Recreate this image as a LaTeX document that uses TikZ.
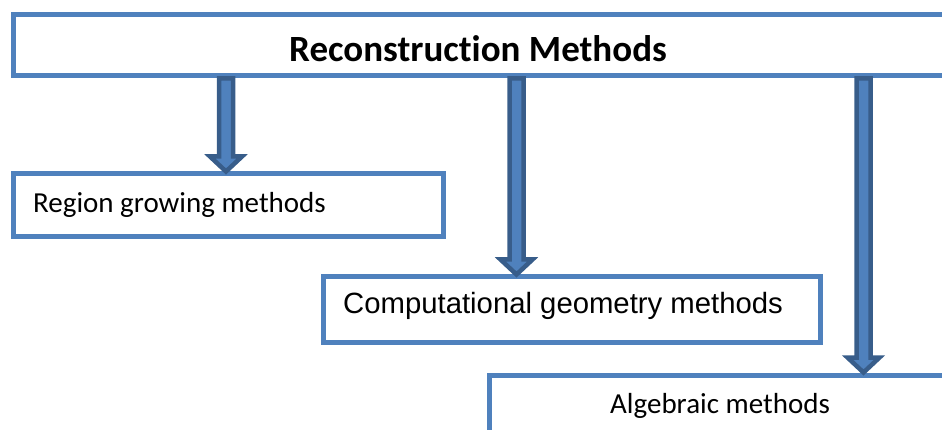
\documentclass[tikz,border=0pt]{standalone}
\usepackage{fontspec}
\setmainfont{Carlito}[Ligatures=NoCommon]
\newfontfamily\arialfont{Liberation Sans}
\usetikzlibrary{calc}
\definecolor{boxblue}{HTML}{4F81BD}
\definecolor{arrowedge}{HTML}{385D8A}
\tikzset{
  methodbox/.style={draw=boxblue, line width=5pt, fill=white, rectangle,
    inner sep=0pt, anchor=north west},
  boxtext/.style={anchor=base west, inner sep=0pt,
    font=\fontsize{29}{34}\selectfont},
  fatarrow/.style={fill=boxblue, draw=arrowedge, line width=4.5pt,
    line join=miter}
}
% thick block arrow from #1 straight down to #2 (same x)
\newcommand\blockarrow[2]{%
  \path[fatarrow] let \p1=(#1), \p2=(#2) in
    (\x1-7pt,\y1) -- (\x1+7pt,\y1) -- (\x1+7pt,\y2+15pt) --
    (\x1+16pt,\y2+15pt) -- (\x1,\y2) -- (\x1-16pt,\y2+15pt) --
    (\x1-7pt,\y2+15pt) -- cycle;}
\begin{document}
\begin{tikzpicture}[x=1pt,y=-1pt]
  \useasboundingbox (0,0) rectangle (942,430);
  \clip (0,0) rectangle (942,430);

  % boxes
  \node[methodbox, minimum width=935pt, minimum height=61pt] (top) at (11,12.5) {};
  \node[methodbox, minimum width=430pt, minimum height=63pt] (reg) at (11,171.5) {};
  \node[methodbox, minimum width=497pt, minimum height=65pt] (comp) at (320.5,274.5) {};
  \node[methodbox, minimum width=520pt, minimum height=100pt] (alg) at (486.5,372.5) {};

  % texts
  \node[anchor=base, inner sep=0pt, font=\fontsize{37}{44}\selectfont\bfseries]
    (ttl) at (478,62) {Reconstruction Methods};
  \node[boxtext] (regt) at (33,213) {Region growing methods};
  \node[boxtext, font=\arialfont\fontsize{29.3}{34}\selectfont]
    (compt) at (343,313) {Computational geometry methods};
  \node[boxtext] (algt) at (610,413) {Algebraic methods};

  % arrows
  \path (226,0) coordinate (x1) (516.5,0) coordinate (x2) (863.5,0) coordinate (x3);
  \coordinate (a1s) at (x1 |- top.south);
  \coordinate (a1e) at (x1 |- reg.north);
  \coordinate (a2s) at (x2 |- top.south);
  \coordinate (a2e) at (x2 |- comp.north);
  \coordinate (a3s) at (x3 |- top.south);
  \coordinate (a3e) at (x3 |- alg.north);
  \blockarrow{a1s}{a1e}
  \blockarrow{a2s}{a2e}
  \blockarrow{a3s}{a3e}
\end{tikzpicture}
\end{document}
